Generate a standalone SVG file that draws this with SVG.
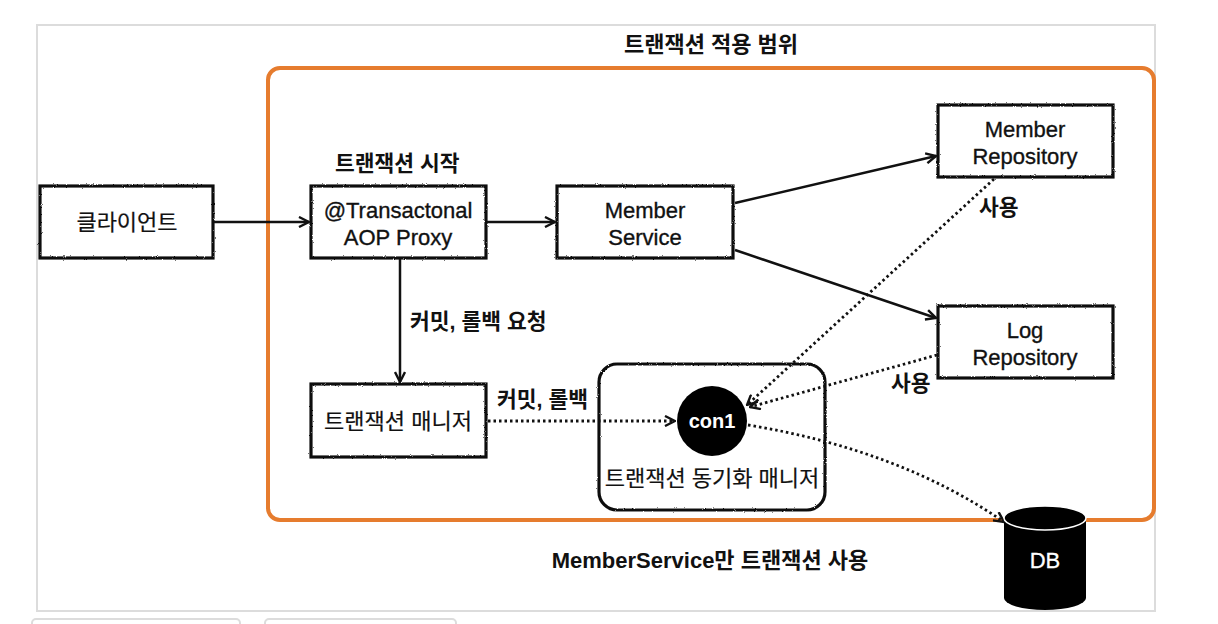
<svg xmlns="http://www.w3.org/2000/svg" width="1218" height="624" viewBox="0 0 1218 624">
<style>
.box{fill:#fff;stroke:#111;stroke-width:3.2}
.t{font-family:"Liberation Sans","Noto Sans CJK KR",sans-serif;font-size:22px;fill:#111;stroke:#111;stroke-width:0.35;text-anchor:middle}
.k{font-size:22px;stroke-width:0.2}
.b{font-family:"Liberation Sans","Noto Sans CJK KR",sans-serif;font-size:21.5px;font-weight:bold;fill:#111}
.c{fill:none;stroke:#111;stroke-width:2.5}
.d{fill:none;stroke:#111;stroke-width:2.8;stroke-dasharray:2.5 3}
</style>
<defs>
<marker id="ah" viewBox="0 0 12 12" refX="11" refY="6" markerWidth="12" markerHeight="12" markerUnits="userSpaceOnUse" orient="auto">
<path d="M1,1 L11,6 L1,11" fill="none" stroke="#111" stroke-width="2.4"/>
</marker>
<filter id="rough" x="-5%" y="-5%" width="110%" height="110%">
<feTurbulence type="fractalNoise" baseFrequency="0.9" numOctaves="2" seed="3"/>
<feDisplacementMap in="SourceGraphic" scale="2.2"/>
</filter>
</defs>
<rect x="0" y="0" width="1218" height="624" fill="#fff"/>
<rect x="37" y="25" width="1118" height="586" fill="#fff" stroke="#dcdcdc" stroke-width="2"/>
<rect x="32" y="619" width="208" height="20" rx="4" fill="#fff" stroke="#dcdcdc" stroke-width="2"/>
<rect x="265" y="619" width="191" height="20" rx="4" fill="#fff" stroke="#dcdcdc" stroke-width="2"/>
<g id="scope">
<rect x="268" y="68" width="886" height="452" rx="12" fill="none" stroke="#E67C2E" stroke-width="4"/>
<text class="b" x="711" y="52" text-anchor="middle" style="font-size:22px">트랜잭션 적용 범위</text>
<text class="b" x="710" y="568" text-anchor="middle" style="font-size:22px">MemberService만 트랜잭션 사용</text>
</g>
<g id="connectors">
<line class="c" x1="214" y1="222" x2="309" y2="222" marker-end="url(#ah)"/>
<line class="c" x1="487" y1="222" x2="555" y2="222" marker-end="url(#ah)"/>
<line class="c" x1="735" y1="203" x2="936" y2="156" marker-end="url(#ah)"/>
<line class="c" x1="735" y1="250" x2="936" y2="318" marker-end="url(#ah)"/>
<line class="c" x1="400" y1="259" x2="400" y2="382" marker-end="url(#ah)"/>
<text class="b" x="410" y="329">커밋, 롤백 요청</text>
<line class="d" x1="488" y1="421" x2="675" y2="421" marker-end="url(#ah)"/>
<text class="b" x="497" y="407">커밋, 롤백</text>
<line class="d" x1="994" y1="179" x2="747" y2="405" marker-end="url(#ah)"/>
<text class="b" x="979" y="215">사용</text>
<line class="d" x1="937" y1="355" x2="750" y2="407" marker-end="url(#ah)"/>
<text class="b" x="891" y="391">사용</text>
<path class="d" d="M748,425 Q900,450 1004,522" marker-end="url(#ah)"/>
</g>
<g id="client">
<rect class="box" x="40" y="186" width="173" height="72" filter="url(#rough)"/>
<text class="t k" x="127" y="230">클라이언트</text>
</g>
<g id="proxy">
<text class="b" x="335" y="171">트랜잭션 시작</text>
<rect class="box" x="311" y="186" width="175" height="72" filter="url(#rough)"/>
<text class="t" x="398" y="218">@Transactonal</text>
<text class="t" x="398" y="245">AOP Proxy</text>
</g>
<g id="memberService">
<rect class="box" x="557" y="186" width="176" height="72" filter="url(#rough)"/>
<text class="t" x="645" y="218">Member</text>
<text class="t" x="645" y="245">Service</text>
</g>
<g id="memberRepository">
<rect class="box" x="938" y="105" width="175" height="72" filter="url(#rough)"/>
<text class="t" x="1025" y="137">Member</text>
<text class="t" x="1025" y="164">Repository</text>
</g>
<g id="logRepository">
<rect class="box" x="938" y="306" width="175" height="72" filter="url(#rough)"/>
<text class="t" x="1025" y="338">Log</text>
<text class="t" x="1025" y="365">Repository</text>
</g>
<g id="txManager">
<rect class="box" x="311" y="384" width="175" height="73" filter="url(#rough)"/>
<text class="t k" x="398" y="429">트랜잭션 매니저</text>
</g>
<g id="syncManager">
<rect x="599" y="364" width="226" height="146" rx="18" fill="none" stroke="#111" stroke-width="3.2" filter="url(#rough)"/>
<text class="t k" x="712" y="486">트랜잭션 동기화 매니저</text>
</g>
<g id="con1">
<circle cx="712" cy="421" r="35" fill="#000"/>
<text class="t" x="712" y="428" style="fill:#fff;stroke:none;font-weight:bold;font-size:20px">con1</text>
</g>
<g id="db">
<path d="M1004,518 L1004,598 A41,12 0 0 0 1086,598 L1086,518 Z" fill="#000"/>
<ellipse cx="1045" cy="518" rx="41" ry="12" fill="#000" stroke="#fff" stroke-width="1.5"/>
<text class="t" x="1045" y="568" style="fill:#fff;stroke:#fff;stroke-width:0.3">DB</text>
</g>
</svg>
